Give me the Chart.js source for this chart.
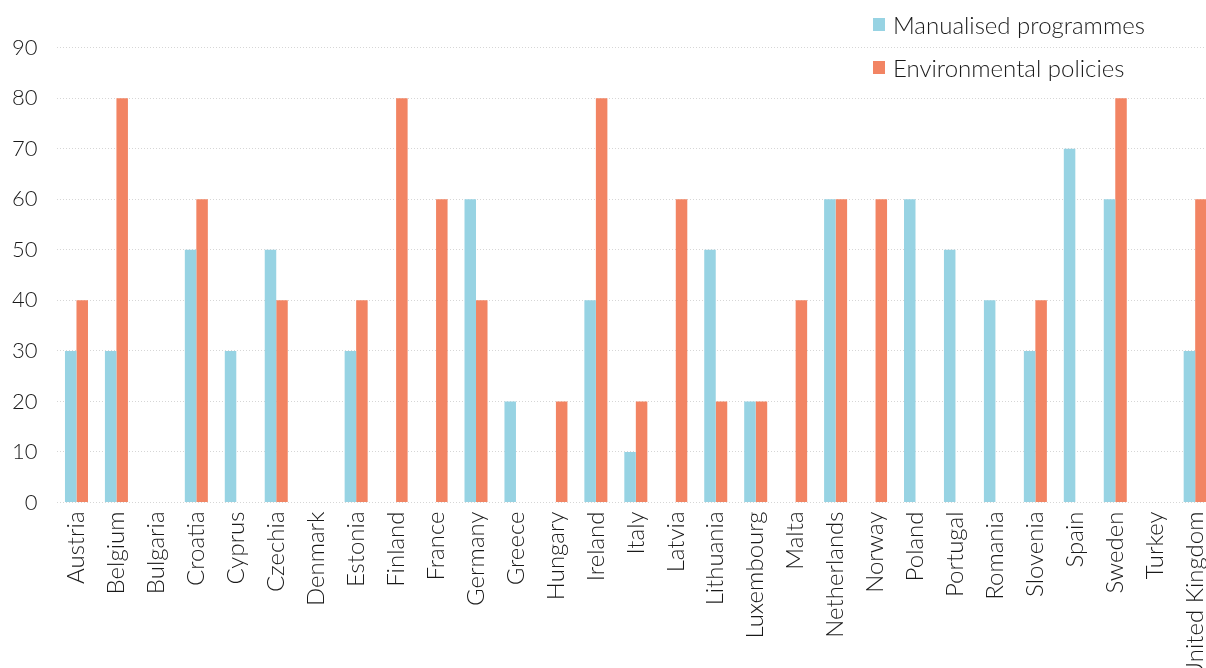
<!DOCTYPE html>
<html>
<head>
<meta charset="utf-8">
<script src="https://cdn.jsdelivr.net/npm/chart.js@4.4.1/dist/chart.umd.min.js"></script>
<style>
  html, body { margin: 0; padding: 0; background: #fff; overflow: hidden; }
  #wrap { position: relative; width: 1206px; height: 668px; overflow: hidden; }
  canvas { position: absolute; left: 0; top: 0; }
  #legend { position: absolute; left: 873px; top: 9px; font-family: Lato, sans-serif; font-weight: 300; font-size: 24px; color: #1a1a1a; }
  #legend .item { display: flex; align-items: center; height: 30px; margin-bottom: 13px; }
  #legend .sw { width: 12px; height: 13px; margin-right: 8px; }
</style>
</head>
<body>
<div id="wrap">
  <canvas id="c" width="1233" height="668"></canvas>
  <div id="legend"></div>
</div>
<script>
const categories = ["Austria","Belgium","Bulgaria","Croatia","Cyprus","Czechia","Denmark","Estonia","Finland","France","Germany","Greece","Hungary","Ireland","Italy","Latvia","Lithuania","Luxembourg","Malta","Netherlands","Norway","Poland","Portugal","Romania","Slovenia","Spain","Sweden","Turkey","United Kingdom"];
const seriesNames = ["Manualised programmes", "Environmental policies"];
const manualised = [30,30,0,50,30,50,0,30,0,0,60,20,0,40,10,0,50,20,0,60,0,60,50,40,30,70,60,0,30];
const environmental = [40,80,0,60,0,40,0,40,80,60,40,0,20,80,20,60,20,20,40,60,60,0,0,0,40,0,80,0,60];
const yTicks = [0,10,20,30,40,50,60,70,80,90];
const colors = ["#97d3e3", "#f28463"];

const legendEl = document.getElementById('legend');
seriesNames.forEach((n, i) => {
  const d = document.createElement('div'); d.className = 'item';
  const s = document.createElement('span'); s.className = 'sw'; s.style.background = colors[i];
  const t = document.createElement('span'); t.textContent = n;
  d.appendChild(s); d.appendChild(t); legendEl.appendChild(d);
});

const font = { family: 'Lato, sans-serif', weight: 300 };
new Chart(document.getElementById('c'), {
  type: 'bar',
  data: {
    labels: categories,
    datasets: [
      { label: seriesNames[0], data: manualised, backgroundColor: colors[0], categoryPercentage: 0.576, barPercentage: 1.0 },
      { label: seriesNames[1], data: environmental, backgroundColor: colors[1], categoryPercentage: 0.576, barPercentage: 1.0 }
    ]
  },
  options: {
    responsive: false,
    animation: false,
    layout: { padding: { top: 47.7, right: 1, left: 0, bottom: 0 } },
    plugins: { legend: { display: false }, tooltip: { enabled: false } },
    scales: {
      x: {
        grid: { display: false, drawTicks: false },
        border: { display: false },
        ticks: { color: '#1a1a1a', font: { ...font, size: 24 }, maxRotation: 90, minRotation: 90, padding: 9, autoSkip: false },
        afterFit: (s) => { s.height = 165.5; }
      },
      y: {
        min: 0, max: 90,
        afterBuildTicks: (s) => { s.ticks = yTicks.map(v => ({ value: v })); },
        grid: { color: '#d6d6d6', lineWidth: 1, drawTicks: false },
        border: { display: false, dash: [1, 2] },
        ticks: { color: '#1a1a1a', font: { ...font, size: 22 }, padding: 19 },
        afterFit: (s) => { s.width = 56.5; }
      }
    }
  }
});
</script>
</body>
</html>
